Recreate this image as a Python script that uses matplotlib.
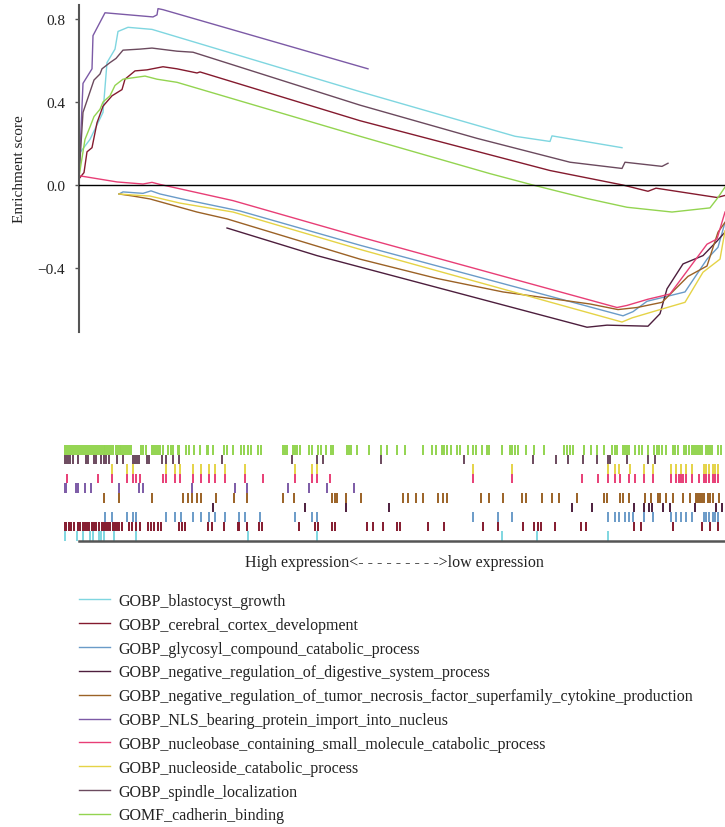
import matplotlib
matplotlib.use("Agg")
import matplotlib.pyplot as plt

plt.rcParams["font.family"] = ["Liberation Serif", "DejaVu Serif"]
plt.rcParams["axes.unicode_minus"] = True

# Gene set names (legend order)
gene_sets = [
    "GOBP_blastocyst_growth",
    "GOBP_cerebral_cortex_development",
    "GOBP_glycosyl_compound_catabolic_process",
    "GOBP_negative_regulation_of_digestive_system_process",
    "GOBP_negative_regulation_of_tumor_necrosis_factor_superfamily_cytokine_production",
    "GOBP_NLS_bearing_protein_import_into_nucleus",
    "GOBP_nucleobase_containing_small_molecule_catabolic_process",
    "GOBP_nucleoside_catabolic_process",
    "GOBP_spindle_localization",
    "GOMF_cadherin_binding",
]

colors = ["#7FD6E0", "#841A2E", "#6A9BC8", "#4D1E3D", "#9B6226",
          "#7C5AA6", "#E83E76", "#E5D346", "#6B4A5E", "#93D450"]

# Running enrichment score: rank positions and ES values
rank_blastocyst = [15, 26, 39, 43, 51, 54, 64, 88, 296, 451, 486, 488, 558]
es_blastocyst = [0.15, 0.22, 0.35, 0.59, 0.655, 0.74, 0.76, 0.75, 0.45, 0.235, 0.21, 0.237, 0.18]

rank_cerebral = [15, 20, 23, 28, 33, 39, 48, 58, 61, 71, 83, 99, 113, 133, 136, 296,
                 486, 559, 584, 592, 653, 661]
es_cerebral = [0.03, 0.06, 0.16, 0.18, 0.30, 0.38, 0.43, 0.46, 0.51, 0.55, 0.555, 0.57,
               0.56, 0.54, 0.545, 0.31, 0.07, 0.0, -0.03, -0.015, -0.06, -0.05]

rank_glycosyl = [55, 59, 79, 87, 96, 119, 176, 296, 559, 569, 583, 621, 643, 654, 661]
es_glycosyl = [-0.043, -0.033, -0.04, -0.028, -0.043, -0.068, -0.125, -0.29, -0.63,
               -0.61, -0.56, -0.515, -0.357, -0.30, -0.18]

rank_digestive = [163, 253, 296, 523, 543, 584, 596, 603, 619, 639, 653, 661]
es_digestive = [-0.207, -0.34, -0.395, -0.685, -0.675, -0.68, -0.62, -0.50, -0.38,
                -0.34, -0.27, -0.227]

rank_tnf = [55, 69, 86, 133, 163, 296, 373, 439, 526, 554, 573, 598, 624, 643, 654, 661]
es_tnf = [-0.043, -0.053, -0.067, -0.13, -0.163, -0.357, -0.45, -0.515, -0.573, -0.6,
          -0.59, -0.565, -0.44, -0.39, -0.227, -0.18]

rank_nls = [15, 19, 28, 29, 41, 89, 93, 94, 99, 304]
es_nls = [0.04, 0.49, 0.56, 0.72, 0.83, 0.81, 0.82, 0.85, 0.845, 0.56]

rank_nucleobase = [15, 53, 79, 88, 96, 113, 169, 296, 553, 563, 584, 606, 643, 653, 661]
es_nucleobase = [0.045, 0.015, 0.005, 0.013, 0.003, -0.015, -0.075, -0.25, -0.59, -0.58,
                 -0.55, -0.525, -0.285, -0.26, -0.13]

rank_nucleoside = [55, 69, 86, 116, 169, 296, 558, 568, 589, 621, 639, 656, 661]
es_nucleoside = [-0.043, -0.048, -0.053, -0.087, -0.13, -0.31, -0.66, -0.64, -0.61,
                 -0.565, -0.42, -0.357, -0.22]

rank_spindle = [15, 19, 30, 36, 38, 46, 52, 59, 76, 88, 113, 129, 296, 413, 506, 558,
                561, 598, 604]
es_spindle = [0.04, 0.35, 0.506, 0.535, 0.56, 0.59, 0.61, 0.65, 0.655, 0.66, 0.645,
              0.64, 0.385, 0.225, 0.11, 0.08, 0.11, 0.09, 0.105]

rank_cadherin = [15, 21, 26, 30, 36, 39, 46, 51, 59, 66, 81, 93, 113, 296, 426, 469,
                 523, 563, 608, 646, 654, 661]
es_cadherin = [0.04, 0.22, 0.28, 0.33, 0.365, 0.40, 0.43, 0.48, 0.51, 0.515, 0.525,
               0.51, 0.495, 0.235, 0.055, 0.0, -0.065, -0.107, -0.13, -0.11, -0.06, -0.01]

# Hit positions of each gene set in the ranked list
hits_cadherin = [0, 2, 4, 6, 8, 10, 12, 14, 16, 18, 20, 22, 24, 26, 28, 30, 32, 34, 36,
                 38, 40, 41, 43, 45, 47, 49, 52, 54, 56, 57, 59, 61, 63, 65, 67, 77, 79,
                 82, 88, 90, 92, 94, 96, 99, 104, 107, 109, 114, 115, 122, 125, 130, 136,
                 143, 144, 149, 160, 163, 169, 177, 180, 184, 187, 194, 197, 219, 221,
                 223, 229, 231, 233, 236, 245, 248, 254, 257, 262, 267, 269, 283, 285,
                 287, 293, 305, 317, 323, 333, 341, 359, 368, 372, 378, 380, 383, 387,
                 393, 396, 404, 409, 412, 418, 423, 425, 438, 446, 448, 451, 454, 462,
                 470, 480, 500, 503, 506, 509, 520, 527, 533, 540, 548, 551, 553, 559,
                 561, 563, 565, 571, 575, 578, 584, 590, 593, 595, 598, 602, 609, 611,
                 614, 620, 622, 625, 628, 630, 632, 634, 636, 638, 642, 644, 646, 648,
                 654, 657]
hits_spindle = [0, 2, 4, 6, 9, 14, 22, 24, 30, 32, 37, 40, 42, 45, 53, 59, 69, 71, 73,
                75, 83, 85, 98, 102, 109, 115, 158, 228, 253, 259, 317, 400, 469, 492,
                504, 519, 533, 544, 546, 563, 584, 591]
hits_nucleoside = [48, 63, 69, 102, 111, 116, 129, 137, 145, 151, 161, 181, 231, 248,
                   253, 409, 448, 544, 551, 555, 566, 580, 589, 607, 612, 617, 622, 628,
                   640, 642, 645, 649, 651, 654]
hits_nucleobase = [3, 34, 48, 63, 69, 72, 76, 99, 102, 111, 116, 129, 137, 145, 151,
                   161, 181, 199, 231, 248, 253, 266, 409, 448, 518, 534, 544, 551, 556,
                   565, 571, 580, 589, 607, 612, 615, 617, 619, 622, 628, 635, 640, 642,
                   645, 649, 651, 654]
hits_nls = [0, 2, 12, 14, 21, 27, 55, 75, 79, 128, 171, 183, 224, 245, 263, 290]
hits_tnf = [40, 55, 88, 119, 124, 128, 133, 137, 152, 170, 183, 219, 230, 268, 271, 273,
            282, 297, 339, 344, 352, 359, 374, 379, 383, 417, 425, 439, 458, 462, 478,
            488, 495, 513, 540, 543, 556, 559, 565, 581, 587, 594, 596, 602, 609, 619,
            626, 632, 634, 636, 638, 640, 644, 646, 649, 655]
hits_digestive = [149, 241, 282, 325, 508, 528, 570, 580, 585, 588, 599, 606, 631, 652,
                  658]
hits_glycosyl = [41, 48, 63, 69, 72, 102, 111, 117, 129, 137, 145, 151, 161, 175, 181,
                 196, 231, 248, 253, 409, 434, 448, 544, 551, 555, 561, 565, 569, 580,
                 589, 607, 612, 617, 622, 628, 640, 642, 645, 649, 651, 654]
hits_cerebral = [0, 2, 5, 7, 10, 14, 16, 19, 21, 23, 25, 28, 30, 32, 35, 38, 40, 42, 44,
                 46, 49, 51, 53, 55, 58, 65, 68, 72, 76, 84, 87, 90, 94, 97, 115, 118,
                 121, 144, 148, 160, 174, 175, 183, 195, 198, 235, 251, 254, 268, 271,
                 303, 309, 319, 333, 336, 364, 380, 419, 434, 459, 470, 474, 477, 491,
                 517, 522, 570, 577, 609, 638, 646, 654]
hits_blastocyst = [1, 13, 19, 26, 29, 35, 37, 40, 50, 72, 184, 253, 438, 473, 544]

es_ranks = [rank_blastocyst, rank_cerebral, rank_glycosyl, rank_digestive, rank_tnf,
            rank_nls, rank_nucleobase, rank_nucleoside, rank_spindle, rank_cadherin]
es_values = [es_blastocyst, es_cerebral, es_glycosyl, es_digestive, es_tnf,
             es_nls, es_nucleobase, es_nucleoside, es_spindle, es_cadherin]

# Barcode rows from top to bottom: (gene set index, hits)
barcode_rows = [(9, hits_cadherin), (8, hits_spindle), (7, hits_nucleoside),
                (6, hits_nucleobase), (5, hits_nls), (4, hits_tnf),
                (3, hits_digestive), (2, hits_glycosyl), (1, hits_cerebral),
                (0, hits_blastocyst)]

W, H = 725, 828
fig = plt.figure(figsize=(W / 100, H / 100), dpi=100)


def fig_box(x0, y_top, x1, y_bot):
    return [x0 / W, 1 - y_bot / H, (x1 - x0) / W, (y_bot - y_top) / H]


# ---- running enrichment score panel ----
ax = fig.add_axes(fig_box(79, 6, 725, 333))
lines = []
for name, col, xs, ys in zip(gene_sets, colors, es_ranks, es_values):
    ln, = ax.plot(xs, ys, color=col, lw=1.0, label=name, solid_joinstyle="round")
    lines.append(ln)
ax.axhline(0, color="black", lw=1.0, zorder=3)
ax.set_xlim(15, 661)
ax.set_ylim(-0.708, 0.8675)
ax.set_yticks([0.8, 0.4, 0.0, -0.4])
ax.set_yticklabels(["0.8", "0.4", "0.0", "\u22120.4"])
ax.set_xticks([])
for s in ("top", "right", "bottom"):
    ax.spines[s].set_visible(False)
ax.spines["left"].set_color("#555555")
ax.spines["left"].set_linewidth(1.5)
ax.tick_params(axis="y", direction="out", length=3, width=1.0, color="#555555",
               labelsize=11, labelcolor="#222222", pad=7)
ax.set_ylabel("Enrichment score", fontsize=11, color="#222222")
ax.yaxis.set_label_coords(-0.082, 0.5)

# ---- hit barcode panel ----
bx = fig.add_axes(fig_box(64, 446, 725, 542))
n_rows = len(barcode_rows)
for i, (gi, hits) in enumerate(barcode_rows):
    top = n_rows - i
    bx.vlines(hits, top - 1, top, colors=colors[gi], lw=1.4)
bx.set_xlim(0, 661)
bx.set_ylim(0, n_rows)
bx.set_xticks([])
bx.set_yticks([])
for s in ("top", "right", "left"):
    bx.spines[s].set_visible(False)
bx.spines["bottom"].set_bounds(15, 661)
bx.spines["bottom"].set_color("#555555")
bx.spines["bottom"].set_linewidth(1.8)

fig.text(394.5 / W, 1 - 563 / H, "High expression<- - - - - - - - ->low expression",
         ha="center", va="center", fontsize=11.5, color="#222222")

# ---- legend ----
fig.legend(handles=lines, labels=gene_sets, loc="upper left",
           bbox_to_anchor=(79 / W, 1 - 594 / H), frameon=False, fontsize=11.5,
           handlelength=1.95, handletextpad=0.5, labelspacing=0.49,
           borderpad=0, borderaxespad=0, labelcolor="#222222")

fig.savefig("out.png", dpi=100)
